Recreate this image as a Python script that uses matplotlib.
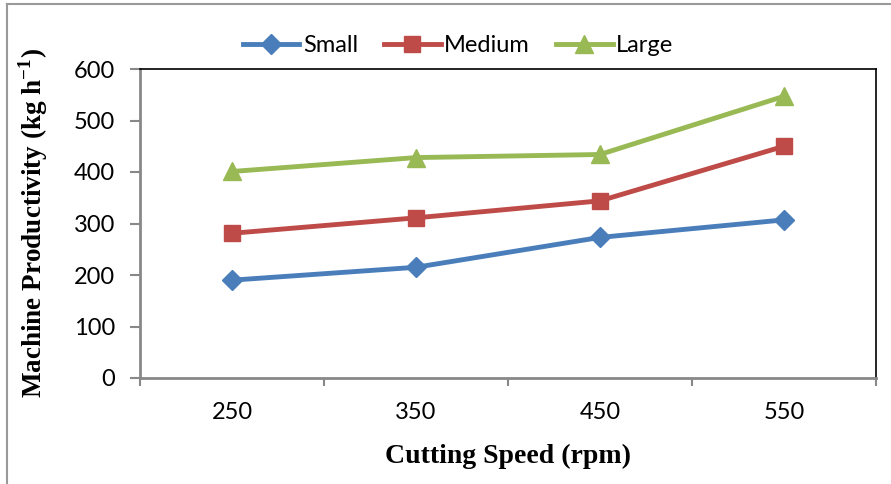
import matplotlib.pyplot as plt
from matplotlib.lines import Line2D

speeds = ['250', '350', '450', '550']
small = [190, 215, 273, 307]
medium = [281, 311, 344, 450]
large = [401, 428, 434, 547]

plt.rcParams['font.family'] = ['Lato', 'DejaVu Sans']
plt.rcParams['mathtext.fontset'] = 'custom'
plt.rcParams['mathtext.rm'] = 'Liberation Serif:bold'
plt.rcParams['mathtext.bf'] = 'Liberation Serif:bold'

fig = plt.figure(figsize=(8.91, 4.84), dpi=100)
ax = fig.add_axes([140 / 891, 1 - 378 / 484, 736 / 891, 309 / 484])

x = range(1, len(speeds) + 1)
ax.plot(x, small, color='#4A7EBB', lw=3.5, marker='D', ms=10, label='Small')
ax.plot(x, medium, color='#BE4B48', lw=3.5, marker='s', ms=12, label='Medium')
ax.plot(x, large, color='#98B954', lw=3.5, marker='^', ms=13, label='Large')

ax.set_xlim(0.5, 4.5)
ax.set_ylim(0, 600)
ax.set_yticks(range(0, 601, 100))
ax.set_xticks([0.5, 1.5, 2.5, 3.5, 4.5])
ax.set_xticklabels([])
ax.set_xticks(list(x), minor=True)
ax.set_xticklabels(speeds, minor=True)
ax.tick_params(axis='x', which='major', length=6, width=1.5, color='#888888')
ax.tick_params(axis='x', which='minor', length=0, pad=17, labelsize=17)
ax.tick_params(axis='y', length=7, width=1.5, color='#888888', labelsize=17, pad=11)

for s in ['left', 'bottom']:
    ax.spines[s].set_color('#888888')
    ax.spines[s].set_linewidth(2)
for s in ['top', 'right']:
    ax.spines[s].set_color('black')
    ax.spines[s].set_linewidth(1.2)

ax.set_xlabel('Cutting Speed (rpm)', family='Liberation Serif', weight='bold',
              fontsize=20, labelpad=15)
ax.set_ylabel('Machine Productivity (kg h$^{-1}$)', family='Liberation Serif',
              weight='bold', fontsize=19.5, labelpad=17)

ax.legend(loc='lower center', bbox_to_anchor=(0.432, 1.0), ncol=3, frameon=False,
          fontsize=17, handlelength=2.4, handletextpad=0.15, columnspacing=1.1,
          borderaxespad=0.15)

fig.add_artist(Line2D([7 / 891, 7 / 891], [0, 1 - 4 / 484], color='#999999', lw=1.5))
fig.add_artist(Line2D([7 / 891, 1], [1 - 4 / 484, 1 - 4 / 484], color='#999999', lw=1.5))

fig.savefig('out.png', dpi=100)
